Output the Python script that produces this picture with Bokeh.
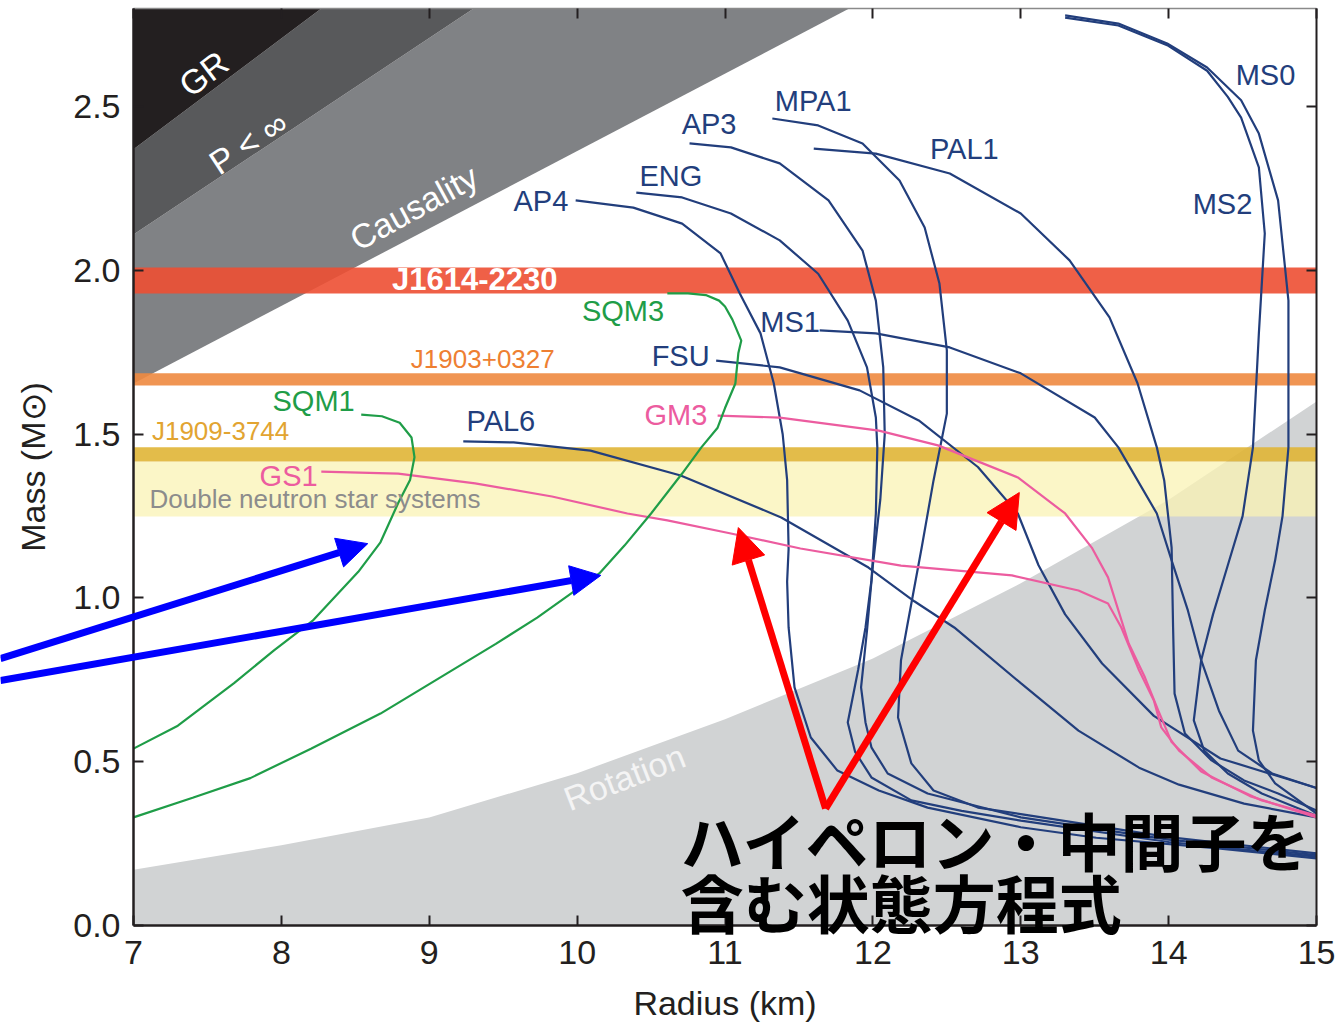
from bokeh.plotting import figure
from bokeh.models import Range1d, LinearAxis, FixedTicker, NumeralTickFormatter, Label, Arrow, NormalHead
from bokeh.embed import file_html
from bokeh.resources import INLINE

# ---------------- axes ----------------
x_lo, x_hi = 7.0, 15.0
y_lo, y_hi = 0.0, 2.8
x_ticks = [7, 8, 9, 10, 11, 12, 13, 14, 15]
y_ticks = [0.0, 0.5, 1.0, 1.5, 2.0, 2.5]
# visible canvas extends past the axes so that annotations can reach the margins
view_x = (6.1006, 15.135)
view_y = (-0.2962, 2.8244)

# ---------------- excluded regions ----------------
gr_R = [7.0, 8.27]
gr_M = [2.37, 2.8]
pinf_R = [7.0, 9.30]
pinf_M = [2.11, 2.8]
caus_R = [7.0, 11.84]
caus_M = [1.655, 2.8]
rot_R = [7.0, 8.0, 9.0, 10.0, 11.0, 12.0, 13.0, 14.0, 15.0]
rot_M = [0.17, 0.245, 0.33, 0.465, 0.63, 0.815, 1.045, 1.30, 1.60]

# ---------------- pulsar mass bands ----------------
band_names = ["Double neutron star systems", "J1909-3744", "J1903+0327", "J1614-2230"]
band_lo = [1.249, 1.417, 1.649, 1.930]
band_hi = [1.417, 1.460, 1.686, 2.009]
band_colors = ["#faf3b4", "#e0b536", "#ee8a40", "#ed4f33"]
band_alpha = [0.75, 0.9, 0.9, 0.9]

# ---------------- mass-radius curves ----------------
AP4_R = [9.99, 10.38, 10.71, 10.97, 11.10, 11.24, 11.33, 11.39, 11.42, 11.43, 11.42, 11.43, 11.47, 11.58, 11.76, 12.04, 12.37, 13.0, 13.51, 14.35, 15.0]
AP4_M = [2.214, 2.192, 2.143, 2.052, 1.93, 1.808, 1.655, 1.50, 1.36, 1.15, 1.05, 0.91, 0.727, 0.574, 0.473, 0.412, 0.36, 0.30, 0.268, 0.235, 0.205]
ENG_R = [10.40, 10.71, 11.04, 11.37, 11.63, 11.83, 11.96, 12.02, 12.03, 12.02, 11.99, 11.95, 11.90, 11.83, 11.88, 11.99, 12.26, 12.60, 13.0, 14.0, 15.0]
ENG_M = [2.238, 2.223, 2.174, 2.092, 1.99, 1.847, 1.704, 1.551, 1.46, 1.258, 1.053, 0.91, 0.78, 0.62, 0.53, 0.452, 0.382, 0.35, 0.32, 0.255, 0.21]
AP3_R = [10.76, 11.04, 11.37, 11.70, 11.93, 12.02, 12.07, 12.08, 12.05, 12.00, 11.96, 11.92, 11.95, 11.99, 12.10, 12.37, 13.0, 14.0, 15.0]
AP3_M = [2.388, 2.376, 2.327, 2.214, 2.061, 1.908, 1.704, 1.50, 1.30, 1.10, 0.90, 0.727, 0.62, 0.544, 0.464, 0.403, 0.33, 0.262, 0.215]
MPA1_R = [11.32, 11.63, 11.93, 12.18, 12.35, 12.45, 12.50, 12.50, 12.41, 12.33, 12.23, 12.19, 12.17, 12.26, 12.41, 12.71, 13.0, 14.0, 15.0]
MPA1_M = [2.464, 2.443, 2.388, 2.275, 2.131, 1.96, 1.756, 1.563, 1.359, 1.154, 0.91, 0.81, 0.635, 0.495, 0.412, 0.36, 0.34, 0.27, 0.22]
PAL1_R = [11.60, 12.02, 12.52, 13.0, 13.33, 13.60, 13.79, 13.92, 13.97, 14.02, 14.03, 14.04, 14.11, 14.29, 14.51, 14.74, 15.0]
PAL1_M = [2.372, 2.357, 2.296, 2.174, 2.031, 1.857, 1.655, 1.46, 1.359, 1.154, 0.91, 0.708, 0.586, 0.504, 0.443, 0.403, 0.351]
MS1_R = [11.64, 12.02, 12.52, 13.0, 13.50, 13.66, 13.92, 14.02, 14.13, 14.22, 14.34, 14.47, 14.70, 15.0]
MS1_M = [1.817, 1.808, 1.765, 1.686, 1.551, 1.46, 1.258, 1.115, 0.962, 0.81, 0.656, 0.534, 0.464, 0.42]
FSU_R = [10.94, 11.37, 11.91, 12.31, 12.71, 12.98, 13.12, 13.30, 13.55, 13.90, 14.35, 15.0]
FSU_M = [1.725, 1.704, 1.634, 1.542, 1.40, 1.258, 1.10, 0.95, 0.80, 0.64, 0.51, 0.42]
PAL6_R = [9.23, 9.57, 10.09, 10.70, 11.38, 11.97, 12.28, 12.55, 13.0, 13.39, 13.80, 14.07, 14.51, 15.0]
PAL6_M = [1.478, 1.475, 1.45, 1.374, 1.246, 1.093, 0.99, 0.91, 0.74, 0.595, 0.482, 0.43, 0.372, 0.33]
MS0_R = [13.30, 13.66, 13.99, 14.26, 14.49, 14.61, 14.74, 14.81, 14.81, 14.77, 14.72, 14.65, 14.59, 14.57, 14.61, 14.72, 15.0]
MS0_M = [2.779, 2.754, 2.693, 2.62, 2.52, 2.418, 2.214, 1.908, 1.46, 1.25, 1.115, 0.962, 0.81, 0.595, 0.504, 0.434, 0.342]
MS2_R = [13.30, 13.66, 13.99, 14.26, 14.40, 14.49, 14.61, 14.65, 14.61, 14.57, 14.50, 14.40, 14.30, 14.22, 14.17, 14.24, 14.40, 14.63, 15.0]
MS2_M = [2.772, 2.748, 2.688, 2.61, 2.53, 2.467, 2.315, 2.113, 1.808, 1.46, 1.25, 1.10, 0.95, 0.81, 0.626, 0.534, 0.464, 0.403, 0.335]
GS1_R = [8.27, 8.79, 9.31, 9.83, 10.34, 10.61, 11.04, 11.51, 12.19, 12.94, 13.39, 13.59, 13.68, 13.80, 13.90, 13.95, 14.07, 14.29, 14.63, 15.0]
GS1_M = [1.386, 1.380, 1.35, 1.31, 1.258, 1.237, 1.197, 1.151, 1.099, 1.069, 1.023, 0.983, 0.91, 0.779, 0.687, 0.605, 0.534, 0.452, 0.382, 0.336]
GM3_R = [10.95, 11.37, 12.04, 12.44, 12.98, 13.30, 13.48, 13.59, 13.66, 13.73, 13.84, 13.93, 14.02, 14.22, 14.55, 15.0]
GM3_M = [1.557, 1.551, 1.511, 1.466, 1.368, 1.258, 1.154, 1.063, 0.962, 0.861, 0.757, 0.656, 0.56, 0.47, 0.395, 0.33]
SQM1_R = [7.0, 7.3, 7.68, 7.95, 8.21, 8.52, 8.67, 8.79, 8.87, 8.90, 8.88, 8.80, 8.68, 8.54]
SQM1_M = [0.54, 0.61, 0.74, 0.84, 0.93, 1.08, 1.17, 1.29, 1.36, 1.43, 1.49, 1.535, 1.555, 1.56]
SQM3_R = [7.0, 7.4, 7.79, 8.2, 8.67, 9.12, 9.45, 9.73, 10.15, 10.32, 10.50, 10.71, 10.84, 10.95, 11.0, 11.07, 11.09, 11.11, 11.05, 11.0, 10.96, 10.87, 10.75, 10.61]
SQM3_M = [0.33, 0.39, 0.45, 0.54, 0.647, 0.77, 0.86, 0.94, 1.075, 1.16, 1.258, 1.38, 1.46, 1.52, 1.58, 1.655, 1.747, 1.786, 1.85, 1.89, 1.908, 1.925, 1.93, 1.93]

NAVY = "#223e7c"
GREEN = "#1f9d48"
PINK = "#ec5c9f"

curves = [
    (AP4_R, AP4_M, NAVY), (ENG_R, ENG_M, NAVY), (AP3_R, AP3_M, NAVY), (MPA1_R, MPA1_M, NAVY),
    (PAL1_R, PAL1_M, NAVY), (MS1_R, MS1_M, NAVY), (FSU_R, FSU_M, NAVY), (PAL6_R, PAL6_M, NAVY),
    (MS0_R, MS0_M, NAVY), (MS2_R, MS2_M, NAVY), (GS1_R, GS1_M, PINK), (GM3_R, GM3_M, PINK),
    (SQM1_R, SQM1_M, GREEN), (SQM3_R, SQM3_M, GREEN),
]

# ---------------- curve labels ----------------
lab_text = ["MS0", "MPA1", "AP3", "PAL1", "ENG", "AP4", "MS2", "SQM3", "MS1", "FSU", "GM3", "PAL6", "SQM1", "GS1"]
lab_R = [14.655, 11.596, 10.892, 12.618, 10.634, 9.755, 14.364, 10.31, 11.44, 10.70, 10.668, 9.484, 8.218, 8.049]
lab_M = [2.598, 2.519, 2.446, 2.372, 2.287, 2.211, 2.202, 1.875, 1.844, 1.740, 1.560, 1.539, 1.600, 1.374]
lab_col = [NAVY, NAVY, NAVY, NAVY, NAVY, NAVY, NAVY, GREEN, NAVY, NAVY, PINK, NAVY, GREEN, PINK]

# ---------------- annotation arrows ----------------
red_start = (11.68, 0.357)
red_ends_R = [11.09, 12.99]
red_ends_M = [1.215, 1.322]
blue_start_R = [6.10, 6.10]
blue_start_M = [0.815, 0.748]
blue_end_R = [8.584, 10.16]
blue_end_M = [1.166, 1.069]

FONT = "Liberation Sans"

p = figure(width=1336, height=1022, x_range=Range1d(*view_x), y_range=Range1d(*view_y),
           output_backend="svg", toolbar_location=None,
           min_border_left=0, min_border_right=0, min_border_top=0, min_border_bottom=0)
p.xgrid.visible = False
p.ygrid.visible = False
p.outline_line_color = None
p.background_fill_color = "white"
p.border_fill_color = "white"

# regions
p.patch(rot_R + [x_hi, x_lo], rot_M + [y_lo, y_lo], fill_color="#d1d3d4", line_color=None)
p.patch(caus_R + pinf_R[::-1], caus_M + pinf_M[::-1], fill_color="#808285", line_color=None)
p.patch(pinf_R + gr_R[::-1], pinf_M + gr_M[::-1], fill_color="#58595b", line_color=None)
p.patch(gr_R + [x_lo], gr_M + [y_hi], fill_color="#231f20", line_color=None)

# bands
p.quad(left=[x_lo] * len(band_lo), right=[x_hi] * len(band_lo), bottom=band_lo, top=band_hi,
       fill_color=band_colors, fill_alpha=band_alpha, line_color=None)

# curves
for R, M, c in curves:
    p.line(R, M, line_color=c, line_width=2.2)

def lab(text, x, y, size, color, angle=0.0, bold=False, align="center", font=FONT):
    p.add_layout(Label(x=x, y=y, text=text, text_font=font, text_font_size=size,
                       text_color=color, angle=angle, text_align=align, text_baseline="middle",
                       text_font_style="bold" if bold else "normal"))

lab("GR", 7.474, 2.601, "34px", "white", angle=0.646)
lab("P < ∞", 7.778, 2.391, "34px", "white", angle=0.58)
lab("Causality", 8.895, 2.192, "34px", "white", angle=0.5)
lab("Rotation", 10.32, 0.452, "34px", "#f4f4f4", angle=0.37)
lab("J1614-2230", 9.308, 1.972, "31px", "white", bold=True)
lab("J1903+0327", 9.362, 1.731, "26px", "#ee7f32")
lab("J1909-3744", 7.589, 1.511, "26px", "#e2a431")
lab("Double neutron star systems", 7.108, 1.301, "26px", "#8c8c8c", align="left")

for t, x, y, c in zip(lab_text, lab_R, lab_M, lab_col):
    lab(t, x, y, "29px", c)

# arrows
for xe, ye in zip(red_ends_R, red_ends_M):
    p.add_layout(Arrow(end=NormalHead(size=34, fill_color="#ff0000", line_color="#ff0000"),
                       x_start=red_start[0], y_start=red_start[1], x_end=xe, y_end=ye,
                       line_color="#ff0000", line_width=7))
for xs, ys, xe, ye in zip(blue_start_R, blue_start_M, blue_end_R, blue_end_M):
    p.add_layout(Arrow(end=NormalHead(size=30, fill_color="#0000ff", line_color="#0000ff"),
                       x_start=xs, y_start=ys, x_end=xe, y_end=ye,
                       line_color="#0000ff", line_width=7))

# Japanese annotation
lab("ハイペロン・中間子を", 10.70, 0.266, "63px", "black", bold=True, align="left", font="Noto Sans CJK JP")
lab("含む状態方程式", 10.70, 0.076, "63px", "black", bold=True, align="left", font="Noto Sans CJK JP")

# axes (drawn at fixed data locations so the canvas margins stay drawable)
AX = "#231f20"
for ax in (p.xaxis[0], p.yaxis[0]):
    ax.major_tick_in = 10
    ax.major_tick_out = 0
    ax.minor_tick_line_color = None
    ax.axis_line_color = AX
    ax.axis_line_width = 2.5
    ax.major_tick_line_color = AX
    ax.major_tick_line_width = 2
    ax.major_label_text_font = FONT
    ax.major_label_text_font_size = "34px"
    ax.major_label_text_color = AX
    ax.axis_label_text_font = FONT
    ax.axis_label_text_font_size = "34px"
    ax.axis_label_text_font_style = "normal"
    ax.axis_label_text_color = AX

p.xaxis[0].fixed_location = y_lo
p.yaxis[0].fixed_location = x_lo
p.xaxis[0].bounds = (x_lo, x_hi)
p.yaxis[0].bounds = (y_lo, y_hi)
p.xaxis[0].ticker = FixedTicker(ticks=x_ticks)
p.yaxis[0].ticker = FixedTicker(ticks=y_ticks)
p.yaxis[0].formatter = NumeralTickFormatter(format="0.0")
p.xaxis[0].axis_label = "Radius (km)"
p.yaxis[0].axis_label = "Mass (M⊙)"
p.xaxis[0].major_label_standoff = 16
p.xaxis[0].axis_label_standoff = 16
p.yaxis[0].major_label_standoff = 13
p.yaxis[0].axis_label_standoff = 18

top = LinearAxis(ticker=FixedTicker(ticks=x_ticks), major_label_text_font_size="0px",
                 major_label_standoff=0, major_tick_in=10, major_tick_out=0,
                 minor_tick_line_color=None, axis_line_color="#8a8a8a", axis_line_width=1.5,
                 major_tick_line_color=AX, major_tick_line_width=2, bounds=(x_lo, x_hi),
                 fixed_location=y_hi, major_label_overrides={t: "" for t in x_ticks})
right = LinearAxis(ticker=FixedTicker(ticks=y_ticks), major_label_text_font_size="0px",
                   major_label_standoff=0, major_tick_in=10, major_tick_out=0,
                   minor_tick_line_color=None, axis_line_color=AX, axis_line_width=2,
                   major_tick_line_color=AX, major_tick_line_width=2, bounds=(y_lo, y_hi),
                   fixed_location=x_hi, major_label_overrides={t: "" for t in y_ticks})
p.add_layout(top, "above")
p.add_layout(right, "right")

open("out.html", "w").write(file_html(p, INLINE))
